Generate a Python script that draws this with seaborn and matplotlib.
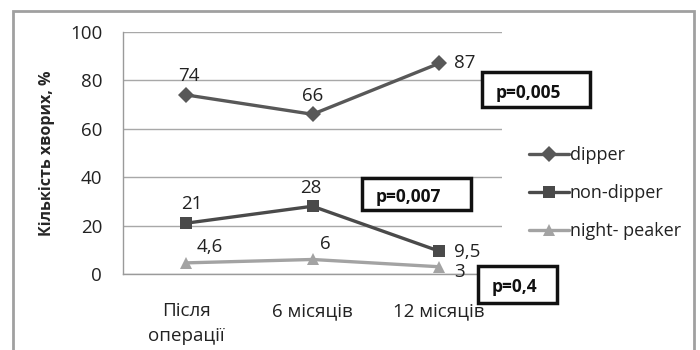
import pandas as pd
import matplotlib
matplotlib.use("Agg")
import matplotlib.pyplot as plt
from matplotlib.patches import Rectangle
import seaborn as sns

# дані з графіка
periods = ["Після\nоперації", "6 місяців", "12 місяців"]
dipper = [74, 66, 87]
non_dipper = [21, 28, 9.5]
night_peaker = [4.6, 6, 3]
labels_dipper = ["74", "66", "87"]
labels_non = ["21", "28", "9,5"]
labels_night = ["4,6", "6", "3"]
series = ["dipper", "non-dipper", "night- peaker"]
p_values = ["p=0,005", "p=0,007", "p=0,4"]

df = pd.DataFrame({
    "period": periods * 3,
    "value": dipper + non_dipper + night_peaker,
    "group": [series[0]] * 3 + [series[1]] * 3 + [series[2]] * 3,
})

sns.set_theme(style="white")
plt.rcParams["font.family"] = ["Open Sans", "DejaVu Sans"]

fig = plt.figure(figsize=(7, 3.5), dpi=100)
ax = fig.add_axes([123 / 700, 1 - 274 / 350, 379 / 700, 242 / 350])

palette = {"dipper": "#585858", "non-dipper": "#4a4a4a", "night- peaker": "#a3a3a3"}
markers = {"dipper": "D", "non-dipper": "s", "night- peaker": "^"}

sns.lineplot(data=df, x="period", y="value", hue="group", style="group",
             palette=palette, markers=markers, dashes=False, linewidth=2.4,
             markersize=8, markeredgewidth=0, sort=False, ax=ax)

ax.set_ylim(0, 100)
ax.set_xlim(-0.5, 2.5)
ax.set_yticks([0, 20, 40, 60, 80, 100])
ax.yaxis.grid(True, color="#a8a8a8", linewidth=1)
ax.set_axisbelow(True)
for s in ["top", "right"]:
    ax.spines[s].set_visible(False)
for s in ["left", "bottom"]:
    ax.spines[s].set_color("#9a9a9a")
    ax.spines[s].set_linewidth(1)
ax.tick_params(axis="both", length=0, labelsize=13.5, colors="#222222")
ax.tick_params(axis="y", pad=15)
ax.tick_params(axis="x", pad=20)
for t in ax.get_xticklabels():
    t.set_linespacing(1.5)
ax.set_xlabel("")
ax.set_ylabel("Кількість хворих, %", fontsize=11.5, fontweight="bold", labelpad=11)

# підписи значень
txt = dict(fontsize=13.5, color="#222222", textcoords="offset points")
ax.annotate(labels_dipper[0], (0, dipper[0]), xytext=(2, 7), ha="center", va="bottom", **txt)
ax.annotate(labels_dipper[1], (1, dipper[1]), xytext=(0, 7), ha="center", va="bottom", **txt)
ax.annotate(labels_dipper[2], (2, dipper[2]), xytext=(11, 0), ha="left", va="center", **txt)
ax.annotate(labels_non[0], (0, non_dipper[0]), xytext=(4, 7), ha="center", va="bottom", **txt)
ax.annotate(labels_non[1], (1, non_dipper[1]), xytext=(-1, 7), ha="center", va="bottom", **txt)
ax.annotate(labels_non[2], (2, non_dipper[2]), xytext=(11, -1), ha="left", va="center", **txt)
ax.annotate(labels_night[0], (0, night_peaker[0]), xytext=(17, 5), ha="center", va="bottom", **txt)
ax.annotate(labels_night[1], (1, night_peaker[1]), xytext=(9, 5), ha="center", va="bottom", **txt)
ax.annotate(labels_night[2], (2, night_peaker[2]), xytext=(11, -4), ha="left", va="center", **txt)

# рамки з p
boxes = [(482, 72, 108, 35), (362, 178, 109, 32), (478, 266, 79, 37)]
for (bx, by, bw, bh), pv in zip(boxes, p_values):
    fig.patches.append(Rectangle((bx / 700, 1 - (by + bh) / 350), bw / 700, bh / 350,
                                 transform=fig.transFigure, fill=True, facecolor="white",
                                 edgecolor="#111111", linewidth=2.5, zorder=5))
    fig.text((bx + 14) / 700, 1 - (by + bh / 2 + 3) / 350, pv, fontsize=12.5,
             fontweight="bold", ha="left", va="center", color="#111111", zorder=6)

# легенда
handles, lbls = ax.get_legend_handles_labels()
leg = ax.legend(handles, lbls, loc="upper left", bbox_to_anchor=(522 / 700, 1 - 139 / 350),
                bbox_transform=fig.transFigure, frameon=False, fontsize=13,
                handlelength=2.2, handletextpad=0.05, labelspacing=1.1, borderaxespad=0)
for t in leg.get_texts():
    t.set_color("#222222")

# зовнішня рамка
fig.patches.append(Rectangle((13 / 700, -0.05), 681 / 700, 1.05 - 11 / 350,
                             transform=fig.transFigure, fill=False,
                             edgecolor="#a0a0a0", linewidth=2))

fig.savefig("out.png", dpi=100)
